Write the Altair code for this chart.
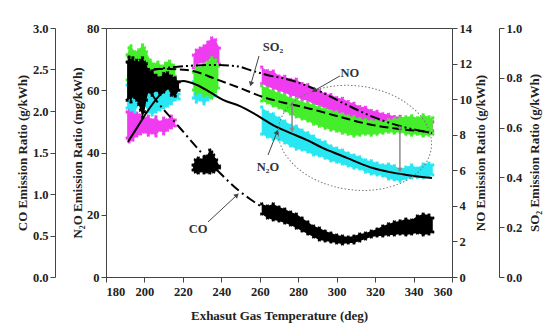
import altair as alt
import pandas as pd

# ---- axis ranges ----
TEMP_RANGE = [180, 360]
CO_RANGE = [0.0, 3.0]
N2O_RANGE = [0, 80]
NO_RANGE = [0, 14]
SO2_RANGE = [0.0, 1.0]

# ---- measured clouds: lower / upper edge of each scatter band ----
# warm-up cluster, short hold near 230 deg, and the long run 261-350 deg
RUN_T = [261, 264, 267, 270, 273, 276, 279, 282, 285, 288, 291, 294, 297,
         300, 303, 306, 309, 312, 315, 318, 321, 324, 327, 330, 333, 336,
         339, 342, 345, 348, 350]

# N2O (mg/kWh)
N2O_WARM_T = [191, 193, 195, 197, 199, 200, 202, 204, 206, 208, 210, 212, 214, 216, 218]
N2O_WARM_UP = [61.7, 63.3, 60.7, 69.7, 73.6, 72.3, 64.9, 61.7, 60.7, 61.4, 60.1, 60.7, 59.4, 60.1, 58.8]
N2O_WARM_LO = [54.3, 53.7, 53.0, 55.3, 56.9, 55.3, 53.0, 52.1, 53.0, 53.7, 54.3, 54.9, 55.6, 56.9, 57.2]
N2O_HOLD_T = [225.5, 227, 229, 231, 233, 235, 237]
N2O_HOLD_UP = [62.7, 63.9, 62.0, 63.3, 61.4, 62.0, 60.1]
N2O_HOLD_LO = [57.5, 56.2, 56.9, 55.6, 56.9, 57.5, 58.2]
N2O_RUN_UP = [54.6, 53.0, 52.4, 51.1, 50.1, 48.8, 48.5, 47.2, 46.3, 45.3,
              44.0, 43.4, 42.1, 41.4, 40.8, 39.8, 39.2, 38.6, 37.6, 37.3,
              36.6, 36.0, 36.3, 35.7, 34.7, 35.3, 36.0, 35.0, 36.3, 36.6, 36.0]
N2O_RUN_LO = [45.9, 45.0, 44.3, 44.0, 43.1, 42.1, 41.1, 40.8, 40.2, 39.2,
              38.9, 38.2, 37.3, 36.9, 36.3, 35.7, 35.0, 34.7, 33.7, 33.1,
              32.8, 32.5, 31.5, 31.2, 30.8, 31.5, 31.8, 32.1, 31.8, 32.5, 32.8]

# NO (g/kWh)
NO_WARM_T = [191, 192, 194, 196, 198, 200, 202, 204, 206, 208, 210, 212, 214, 216]
NO_WARM_UP = [9.28, 9.50, 9.39, 9.22, 9.11, 8.94, 9.05, 8.83, 9.00, 8.71, 8.94, 8.83, 9.05, 8.83]
NO_WARM_LO = [7.81, 7.59, 7.70, 7.93, 8.04, 8.15, 7.98, 8.10, 7.93, 8.26, 8.04, 8.26, 8.38, 8.49]
NO_HOLD_T = [225.5, 227, 229, 231, 233, 235, 237, 239]
NO_HOLD_UP = [12.48, 12.76, 12.87, 12.99, 13.21, 13.44, 13.33, 12.87]
NO_HOLD_LO = [11.75, 11.86, 12.09, 11.97, 12.20, 12.31, 12.09, 11.97]
NO_RUN_UP = [11.80, 11.60, 11.58, 11.30, 11.28, 11.10, 11.12, 10.88, 10.82, 10.58,
             10.50, 10.30, 10.26, 10.08, 10.04, 9.86, 9.76, 9.58, 9.54, 9.36,
             9.31, 9.18, 9.14, 9.02, 9.03, 8.92, 8.90, 8.80, 8.79, 8.74, 8.72]
NO_RUN_LO = [10.88, 10.70, 10.60, 10.46, 10.37, 10.20, 10.15, 9.97, 9.92, 9.70,
             9.64, 9.46, 9.36, 9.18, 9.19, 9.01, 8.97, 8.80, 8.74, 8.62,
             8.63, 8.46, 8.45, 8.40, 8.40, 8.35, 8.34, 8.24, 8.28, 8.19, 8.22]

# SO2 (g/kWh)
SO2_WARM_T = [191, 192, 193, 195, 197, 199, 200, 201, 203, 205, 207, 209, 211, 213, 215, 216]
SO2_WARM_UP = [0.892, 0.920, 0.928, 0.904, 0.912, 0.932, 0.920, 0.904, 0.871, 0.855,
               0.863, 0.847, 0.859, 0.867, 0.851, 0.839]
SO2_WARM_LO = [0.791, 0.771, 0.783, 0.751, 0.759, 0.731, 0.743, 0.751, 0.771, 0.759,
               0.775, 0.767, 0.783, 0.791, 0.799, 0.807]
SO2_HOLD_T = [225.5, 227, 229, 231, 233, 235, 237, 238.5]
SO2_HOLD_UP = [0.823, 0.847, 0.839, 0.855, 0.863, 0.880, 0.871, 0.847]
SO2_HOLD_LO = [0.751, 0.735, 0.743, 0.727, 0.731, 0.719, 0.743, 0.759]
SO2_RUN_UP = [0.767, 0.759, 0.747, 0.739, 0.731, 0.719, 0.715, 0.703, 0.699, 0.691,
              0.683, 0.675, 0.667, 0.663, 0.655, 0.647, 0.643, 0.635, 0.631, 0.627,
              0.631, 0.622, 0.631, 0.635, 0.639, 0.643, 0.647, 0.639, 0.651, 0.643, 0.639]
SO2_RUN_LO = [0.707, 0.699, 0.687, 0.679, 0.667, 0.655, 0.643, 0.635, 0.627, 0.614,
              0.606, 0.598, 0.590, 0.586, 0.578, 0.574, 0.566, 0.570, 0.574, 0.570,
              0.574, 0.578, 0.582, 0.578, 0.582, 0.574, 0.570, 0.574, 0.566, 0.570, 0.574]

# CO (g/kWh)
CO_WARM_T = [191, 192, 193, 194, 195, 196, 197, 198, 199, 200, 201, 202, 204, 206,
             208, 210, 212, 214, 216, 218]
CO_WARM_UP = [2.59, 2.65, 2.61, 2.64, 2.59, 2.61, 2.58, 2.61, 2.64, 2.59, 2.57, 2.49,
              2.47, 2.43, 2.40, 2.45, 2.46, 2.42, 2.40, 2.35]
CO_WARM_LO = [2.13, 2.16, 2.11, 2.18, 2.16, 2.13, 2.08, 2.01, 1.92, 1.99, 2.13, 2.23,
              2.19, 2.25, 2.20, 2.23, 2.28, 2.19, 2.18, 2.25]
CO_HOLD_T = [225.3, 226.5, 228, 229.5, 231, 232.5, 234, 235, 236, 237.5, 239]
CO_HOLD_UP = [1.349, 1.410, 1.434, 1.410, 1.446, 1.458, 1.530, 1.506, 1.470, 1.410, 1.337]
CO_HOLD_LO = [1.289, 1.265, 1.253, 1.277, 1.253, 1.265, 1.253, 1.277, 1.265, 1.289, 1.313]
CO_RUN_UP = [0.880, 0.855, 0.880, 0.843, 0.819, 0.783, 0.759, 0.711, 0.663, 0.614,
             0.590, 0.554, 0.530, 0.506, 0.494, 0.482, 0.494, 0.518, 0.530, 0.554,
             0.578, 0.614, 0.639, 0.663, 0.675, 0.699, 0.687, 0.735, 0.759, 0.747, 0.711]
CO_RUN_LO = [0.759, 0.711, 0.687, 0.675, 0.651, 0.627, 0.590, 0.554, 0.518, 0.482,
             0.446, 0.434, 0.422, 0.410, 0.398, 0.410, 0.410, 0.434, 0.458, 0.482,
             0.494, 0.494, 0.506, 0.506, 0.518, 0.506, 0.518, 0.530, 0.506, 0.518, 0.542]

# ---- fitted trend curves ----
N2O_FIT_T = [191.4, 196.1, 201.3, 208.1, 214.9, 220.1, 227.3, 234.1, 240.9, 249.7, 260.1,
             266.9, 275.7, 284.6, 292.9, 301.7, 310.6, 318.9, 327.7, 336.6, 349.6]
N2O_FIT = [43.4, 47.9, 53.0, 58.5, 61.7, 63.0, 61.7, 59.4, 56.9, 54.9, 51.4,
           48.8, 46.3, 44.0, 41.4, 39.2, 36.9, 35.0, 33.7, 32.8, 31.8]
SO2_FIT_T = [191.4, 201.3, 213.3, 222.1, 228.9, 235.7, 249.7, 261.7, 273.1, 284.6,
             301.7, 318.9, 332.9, 347.0, 349.6]
SO2_FIT = [0.831, 0.835, 0.835, 0.831, 0.819, 0.799, 0.759, 0.723, 0.699, 0.679,
           0.643, 0.610, 0.594, 0.582, 0.578]
NO_FIT_T = [191.4, 210.7, 221.6, 234.1, 247.6, 256.5, 263.8, 275.7, 289.8, 304.3,
            318.9, 332.9, 347.0, 349.6]
NO_FIT = [11.30, 11.75, 11.86, 11.92, 11.86, 11.58, 11.36, 11.08, 10.51, 9.73,
          9.00, 8.49, 8.15, 8.10]
CO_FIT_T = [191.4, 198.7, 206.0, 218.5, 228.4, 239.3, 248.1, 254.9, 261.2, 273.1,
            284.6, 296.5, 309.5, 322.5, 335.5, 349.6]
CO_FIT = [2.590, 2.373, 2.132, 1.795, 1.530, 1.253, 1.060, 0.940, 0.843, 0.747,
          0.566, 0.470, 0.458, 0.542, 0.602, 0.639]

# ---- annotations (placed in N2O axis units) ----
LABEL_TEXT = ["SO\u2082", "NO", "N\u2082O", "CO"]
LABEL_T = [266.9, 306.9, 264.3, 227.9]
LABEL_V = [73.9, 65.5, 35.3, 15.4]
PTR_T0 = [259.6, 301.7, 264.3, 233.1]
PTR_V0 = [71.0, 64.6, 39.2, 17.7]
PTR_T1 = [255.4, 288.2, 269.0, 248.1]
PTR_V1 = [62.0, 59.8, 46.6, 26.3]
PTR_ANGLE = [196, 240, 21, 47]
GAP_T = [276.8, 332.9]
GAP_TOP = [55.3, 48.2]
GAP_BOTTOM = [47.2, 34.4]
RING_T = [309.5]
RING_V = [44.7]

FONT = "Liberation Serif"
MAGENTA, CYAN, GREEN = "#f03cf0", "#28e6f2", "#44ee2a"
# unit ellipse (flattened circle) drawn as a custom symbol
RING_PATH = ("M -1 0 C -1 -0.373 -0.552 -0.675 0 -0.675 C 0.552 -0.675 1 -0.373 1 0 "
             "C 1 0.373 0.552 0.675 0 0.675 C -0.552 0.675 -1 0.373 -1 0 Z")

x_enc = alt.X(
    "T:Q",
    scale=alt.Scale(domain=TEMP_RANGE, nice=False, zero=False),
    axis=alt.Axis(values=list(range(180, 361, 20)), title="Exhasut Gas Temperature (deg)",
                  labelPadding=3, titlePadding=12),
)


def yscale(rng):
    return alt.Scale(domain=rng, nice=False, zero=False)


def band_table(parts):
    rows = []
    for seg, (ts, ups, lows) in enumerate(parts):
        for t, u, lo in zip(ts, ups, lows):
            rows.append({"T": t, "up": u, "low": lo, "seg": seg})
    return pd.DataFrame(rows)


def cloud(parts, rng, color, axis):
    df = band_table(parts)
    base = alt.Chart(df)
    area = base.mark_area(color=color, opacity=1).encode(
        x=x_enc, y=alt.Y("up:Q", scale=yscale(rng), axis=axis), y2="low:Q", detail="seg:N")
    marks = base.transform_fold(["up", "low"], as_=["edge", "v"]).mark_point(
        shape="cross", angle=45, filled=True, size=14, color=color, opacity=1
    ).encode(x=x_enc, y=alt.Y("v:Q", scale=yscale(rng), axis=None))
    return [area, marks]


def fit_line(ts, vs, rng, dash=None):
    df = pd.DataFrame({"T": ts, "v": vs})
    kw = dict(color="black", strokeWidth=2, interpolate="monotone")
    if dash:
        kw["strokeDash"] = dash
    return alt.Chart(df).mark_line(**kw).encode(
        x=x_enc, y=alt.Y("v:Q", scale=yscale(rng), axis=None))


co_axis = alt.Axis(orient="left", offset=51, values=[0, 0.5, 1.0, 1.5, 2.0, 2.5, 3.0],
                   format=".1f", title="CO Emission Ratio (g/kWh)", titlePadding=3)
n2o_axis = alt.Axis(orient="left", values=[0, 20, 40, 60, 80], format="d",
                    title="N\u2082O Emission Ratio (mg/kWh)", titlePadding=2)
no_axis = alt.Axis(orient="right", values=list(range(0, 15, 2)), format="d",
                   title="NO Emission Ratio (g/kWh)", titleAngle=270, titleBaseline="top",
                   titlePadding=3)
so2_axis = alt.Axis(orient="right", offset=47, values=[0, 0.2, 0.4, 0.6, 0.8, 1.0],
                    format=".1f", title="SO\u2082 Emission Ratio (g/kWh)", titleAngle=270,
                    titleBaseline="top", titlePadding=7)

layers = []
layers += cloud([(NO_WARM_T, NO_WARM_UP, NO_WARM_LO), (NO_HOLD_T, NO_HOLD_UP, NO_HOLD_LO),
                 (RUN_T, NO_RUN_UP, NO_RUN_LO)], NO_RANGE, MAGENTA, no_axis)
layers += cloud([(N2O_WARM_T, N2O_WARM_UP, N2O_WARM_LO), (N2O_HOLD_T, N2O_HOLD_UP, N2O_HOLD_LO),
                 (RUN_T, N2O_RUN_UP, N2O_RUN_LO)], N2O_RANGE, CYAN, n2o_axis)
layers += cloud([(SO2_WARM_T, SO2_WARM_UP, SO2_WARM_LO), (SO2_HOLD_T, SO2_HOLD_UP, SO2_HOLD_LO),
                 (RUN_T, SO2_RUN_UP, SO2_RUN_LO)], SO2_RANGE, GREEN, so2_axis)
layers += cloud([(CO_WARM_T, CO_WARM_UP, CO_WARM_LO), (CO_HOLD_T, CO_HOLD_UP, CO_HOLD_LO),
                 (RUN_T, CO_RUN_UP, CO_RUN_LO)], CO_RANGE, "black", co_axis)

layers.append(fit_line(N2O_FIT_T, N2O_FIT, N2O_RANGE))
layers.append(fit_line(SO2_FIT_T, SO2_FIT, SO2_RANGE, [9, 4]))
layers.append(fit_line(NO_FIT_T, NO_FIT, NO_RANGE, [10, 3, 2, 3, 2, 3]))
layers.append(fit_line(CO_FIT_T, CO_FIT, CO_RANGE, [10, 4, 2, 4]))

ann_y = dict(scale=yscale(N2O_RANGE), axis=None)

ring = alt.Chart(pd.DataFrame({"T": RING_T, "v": RING_V})).mark_point(
    shape=RING_PATH, size=23716, angle=8, filled=False, stroke="#777",
    strokeWidth=1, strokeDash=[1.5, 2], opacity=1
).encode(x=x_enc, y=alt.Y("v:Q", **ann_y))

gap = pd.DataFrame({"T": GAP_T, "top": GAP_TOP, "bottom": GAP_BOTTOM})
gap_rule = alt.Chart(gap).mark_rule(color="#8a8a8a", strokeWidth=1.5).encode(
    x=x_enc, y=alt.Y("top:Q", **ann_y), y2="bottom:Q")
gap_head = alt.Chart(gap).mark_point(
    shape="triangle-down", filled=True, size=28, color="#8a8a8a", opacity=1
).encode(x=x_enc, y=alt.Y("bottom:Q", **ann_y))
gap_cap = alt.Chart(gap).mark_point(
    shape="triangle-up", filled=True, size=16, color="#8a8a8a", opacity=1
).encode(x=x_enc, y=alt.Y("top:Q", **ann_y))

ptr = pd.DataFrame({"T": PTR_T0, "v": PTR_V0, "T1": PTR_T1, "v1": PTR_V1})
ptr_rule = alt.Chart(ptr).mark_rule(color="#444", strokeWidth=1).encode(
    x=x_enc, y=alt.Y("v:Q", **ann_y), x2="T1:Q", y2="v1:Q")
tips = pd.DataFrame({"T": PTR_T1, "v": PTR_V1, "ang": PTR_ANGLE})
ptr_head = alt.Chart(tips).mark_point(
    shape="triangle-up", filled=True, size=30, color="#444", opacity=1
).encode(x=x_enc, y=alt.Y("v:Q", **ann_y), angle=alt.Angle("ang:Q", scale=None))

labels = alt.Chart(pd.DataFrame({"T": LABEL_T, "v": LABEL_V, "txt": LABEL_TEXT})).mark_text(
    font=FONT, fontWeight="bold", fontSize=12.5, color="#333", align="center", baseline="middle"
).encode(x=x_enc, y=alt.Y("v:Q", **ann_y), text="txt:N")

layers += [ring, gap_rule, gap_head, gap_cap, ptr_rule, ptr_head, labels]

chart = (
    alt.layer(*layers)
    .resolve_scale(y="independent")
    .properties(width=346, height=249, autosize=alt.AutoSizeParams(type="none"),
                padding={"left": 106, "top": 28, "right": 95, "bottom": 48})
    .configure_view(stroke="#444", strokeWidth=1)
    .configure_axis(grid=False, domainColor="#444", tickColor="#444", tickSize=5,
                    labelFont=FONT, labelFontWeight="bold", labelFontSize=12.5,
                    labelColor="#222", titleFont=FONT, titleFontWeight="bold",
                    titleFontSize=13, titleColor="#222")
)

chart.save("out.html", embed_options={"renderer": "svg", "actions": False})
